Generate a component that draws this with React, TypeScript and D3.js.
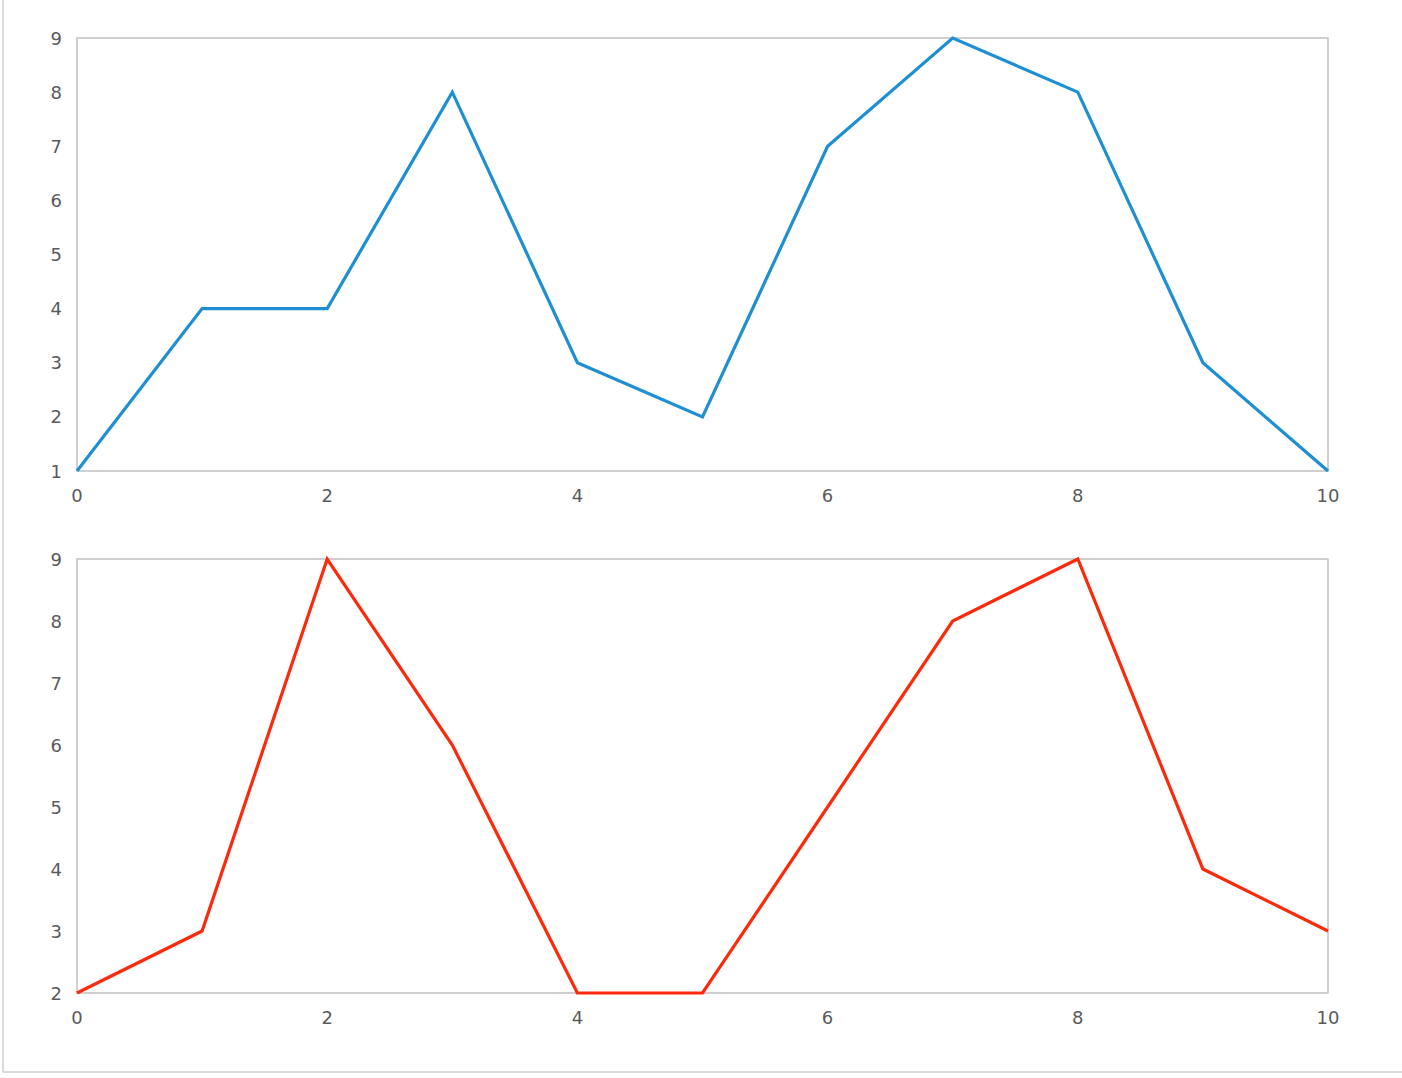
import React from "react";
import * as d3 from "d3";

const xValues = [0, 1, 2, 3, 4, 5, 6, 7, 8, 9, 10];
const seriesTop = [1, 4, 4, 8, 3, 2, 7, 9, 8, 3, 1];
const seriesBottom = [2, 3, 9, 6, 2, 2, 5, 8, 9, 4, 3];
const xTicks = [0, 2, 4, 6, 8, 10];
const yTicksTop = [1, 2, 3, 4, 5, 6, 7, 8, 9];
const yTicksBottom = [2, 3, 4, 5, 6, 7, 8, 9];

const W = 1402;
const H = 1078;

type PanelProps = {
  values: number[];
  yTicks: number[];
  domain: [number, number];
  top: number;
  bottom: number;
  color: string;
};

function Panel({ values, yTicks, domain, top, bottom, color }: PanelProps) {
  const left = 77;
  const right = 1328;
  const x = d3.scaleLinear().domain([0, 10]).range([left, right]);
  const y = d3.scaleLinear().domain(domain).range([bottom, top]);
  const line = d3
    .line<number>()
    .x((_, i) => x(xValues[i]))
    .y((d) => y(d));
  return (
    <g>
      <rect
        x={left}
        y={top}
        width={right - left}
        height={bottom - top}
        fill="none"
        stroke="#c4c4c4"
        strokeWidth={1.6}
      />
      <path d={line(values) ?? ""} fill="none" stroke={color} strokeWidth={3.2} strokeLinejoin="miter" />
      {yTicks.map((t) => (
        <text
          key={"y" + t}
          x={62}
          y={y(t)}
          textAnchor="end"
          dominantBaseline="central"
          fontFamily="DejaVu Sans"
          fontSize={18}
          fill="#5a5a5a"
        >
          {t}
        </text>
      ))}
      {xTicks.map((t) => (
        <text
          key={"x" + t}
          x={x(t)}
          y={bottom + 24}
          textAnchor="middle"
          dominantBaseline="central"
          fontFamily="DejaVu Sans"
          fontSize={18}
          fill="#5a5a5a"
        >
          {t}
        </text>
      ))}
    </g>
  );
}

export default function App() {
  return (
    <svg
      width={W}
      height={H}
      style={{ position: "absolute", left: 0, top: 0, background: "#fff" }}
    >
      <rect x={3} y={-10} width={W + 10} height={1082} fill="#fff" stroke="#d0d0d0" strokeWidth={1.5} />
      <Panel values={seriesTop} yTicks={yTicksTop} domain={[1, 9]} top={38} bottom={471} color="#1f8fd3" />
      <Panel values={seriesBottom} yTicks={yTicksBottom} domain={[2, 9]} top={559} bottom={993} color="#fb2a0c" />
    </svg>
  );
}
